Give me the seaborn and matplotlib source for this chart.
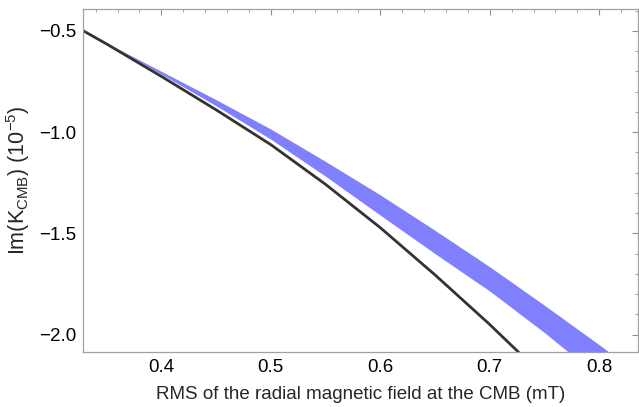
import matplotlib
matplotlib.use("Agg")
import matplotlib.pyplot as plt
from matplotlib.ticker import MultipleLocator, FuncFormatter
import seaborn as sns
import pandas as pd

# --- data ---
x_black = [0.3287, 0.35, 0.40, 0.45, 0.50, 0.55, 0.60, 0.65, 0.70, 0.75]
y_black = [-0.500, -0.565, -0.725, -0.890, -1.062, -1.258, -1.472, -1.705, -1.950, -2.210]

x_band = [0.3287, 0.35, 0.40, 0.45, 0.50, 0.55, 0.60, 0.65, 0.70, 0.75, 0.80, 0.85]
band_upper = [-0.500, -0.560, -0.700, -0.840, -0.985, -1.145, -1.310, -1.485, -1.665, -1.855, -2.050, -2.250]
band_lower = [-0.500, -0.562, -0.714, -0.870, -1.035, -1.218, -1.410, -1.600, -1.785, -1.990, -2.210, -2.440]

x_ticks = [0.4, 0.5, 0.6, 0.7, 0.8]
y_ticks = [-0.5, -1.0, -1.5, -2.0]
x_label = "RMS of the radial magnetic field at the CMB (mT)"
y_label = r"Im(K$_{\mathrm{CMB}}$) (10$^{-5}$)"

sns.set_style("white")
plt.rcParams["font.family"] = ["Liberation Sans", "DejaVu Sans"]
plt.rcParams["mathtext.fontset"] = "custom"
plt.rcParams["mathtext.rm"] = "Liberation Sans"
plt.rcParams["mathtext.it"] = "Liberation Sans:italic"
plt.rcParams["mathtext.bf"] = "Liberation Sans:bold"
plt.rcParams["axes.unicode_minus"] = True

fig = plt.figure(figsize=(6.39, 4.07), dpi=100)
ax = fig.add_axes([0.1304, 0.135, 0.868, 0.844])

df_black = pd.DataFrame({"x": x_black, "y": y_black})
ax.fill_between(x_band, band_lower, band_upper, color="#8080ff", linewidth=0, zorder=1)
sns.lineplot(data=df_black, x="x", y="y", ax=ax, color="#333333", linewidth=2.0,
             zorder=2, sort=False, estimator=None)

ax.set_xlim(0.3287, 0.8354)
ax.set_ylim(-2.086, -0.39)

ax.set_xticks(x_ticks)
ax.set_yticks(y_ticks)
ax.xaxis.set_minor_locator(MultipleLocator(0.02))
ax.yaxis.set_minor_locator(MultipleLocator(0.1))
fmt = FuncFormatter(lambda v, p: f"{v:.1f}".replace("-", "\u2212"))
ax.xaxis.set_major_formatter(fmt)
ax.yaxis.set_major_formatter(fmt)

frame_col = "#a0a0a0"
for s in ax.spines.values():
    s.set_visible(True)
    s.set_color(frame_col)
    s.set_linewidth(0.9)

ax.tick_params(which="both", direction="in", top=True, right=True,
               color="#909090", labelcolor="black", labelsize=13.5)
ax.tick_params(which="major", length=4.0, width=0.8, pad=5)
ax.tick_params(which="minor", length=2.2, width=0.6)

ax.set_xlabel(x_label, fontsize=13.5, labelpad=7)
ax.set_ylabel(y_label, fontsize=15.5, labelpad=5)

fig.savefig("out.png", dpi=100)
